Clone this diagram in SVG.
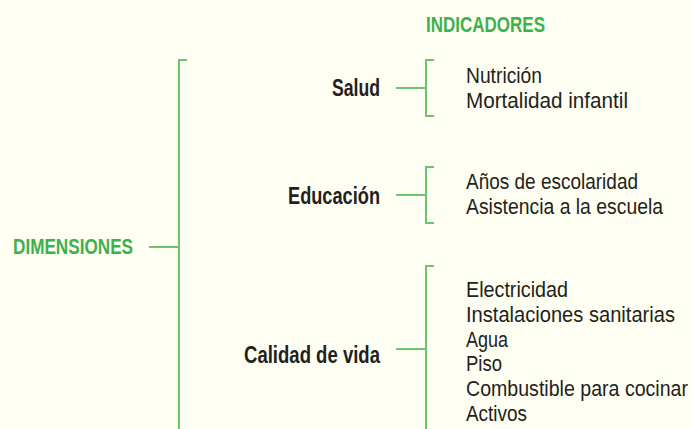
<svg xmlns="http://www.w3.org/2000/svg" width="691" height="429" viewBox="0 0 691 429">
<style>
.bg{fill:#fffef2}
.ln{fill:none;stroke:#6cc470;stroke-width:2}
.hd{font-family:"Liberation Sans Narrow","Liberation Sans",Arial,sans-serif;font-weight:bold;font-size:22px;fill:#3db14b}
.lb{font-family:"Liberation Sans Narrow","Liberation Sans",Arial,sans-serif;font-weight:bold;font-size:23px;fill:#231f20;text-anchor:end}
.it{font-family:"Liberation Sans Narrow","Liberation Sans",Arial,sans-serif;font-size:22px;fill:#231f20}
</style>
<rect class="bg" x="0" y="0" width="691" height="429"/>
<g id="connectors">
<path class="ln" d="M149 247H179"/>
<path class="ln" d="M187 60H179V432"/>
<path class="ln" d="M396 88H426"/>
<path class="ln" d="M434 60H426V116H434"/>
<path class="ln" d="M396 195H426"/>
<path class="ln" d="M434 167H426V223H434"/>
<path class="ln" d="M396 349H426"/>
<path class="ln" d="M434 266H426V434"/>
</g>
<g id="indicadores"><text class="hd" x="426" y="32" textLength="119" lengthAdjust="spacingAndGlyphs">INDICADORES</text></g>
<g id="dimensiones"><text class="hd" x="13" y="254" textLength="120" lengthAdjust="spacingAndGlyphs">DIMENSIONES</text></g>
<g id="salud">
<text class="lb" x="380" y="96" textLength="48" lengthAdjust="spacingAndGlyphs">Salud</text>
<text class="it" x="466" y="83" textLength="76" lengthAdjust="spacingAndGlyphs">Nutrición</text>
<text class="it" x="466" y="108" textLength="162" lengthAdjust="spacingAndGlyphs">Mortalidad infantil</text>
</g>
<g id="educacion">
<text class="lb" x="380" y="204" textLength="92" lengthAdjust="spacingAndGlyphs">Educación</text>
<text class="it" x="466" y="189" textLength="172" lengthAdjust="spacingAndGlyphs">Años de escolaridad</text>
<text class="it" x="466" y="214" textLength="197" lengthAdjust="spacingAndGlyphs">Asistencia a la escuela</text>
</g>
<g id="calidad">
<text class="lb" x="380" y="363" textLength="136" lengthAdjust="spacingAndGlyphs">Calidad de vida</text>
<text class="it" x="466" y="297" textLength="102" lengthAdjust="spacingAndGlyphs">Electricidad</text>
<text class="it" x="466" y="322" textLength="209" lengthAdjust="spacingAndGlyphs">Instalaciones sanitarias</text>
<text class="it" x="466" y="347" textLength="42" lengthAdjust="spacingAndGlyphs">Agua</text>
<text class="it" x="466" y="371" textLength="36" lengthAdjust="spacingAndGlyphs">Piso</text>
<text class="it" x="466" y="396" textLength="222" lengthAdjust="spacingAndGlyphs">Combustible para cocinar</text>
<text class="it" x="466" y="421" textLength="61" lengthAdjust="spacingAndGlyphs">Activos</text>
</g>
</svg>
